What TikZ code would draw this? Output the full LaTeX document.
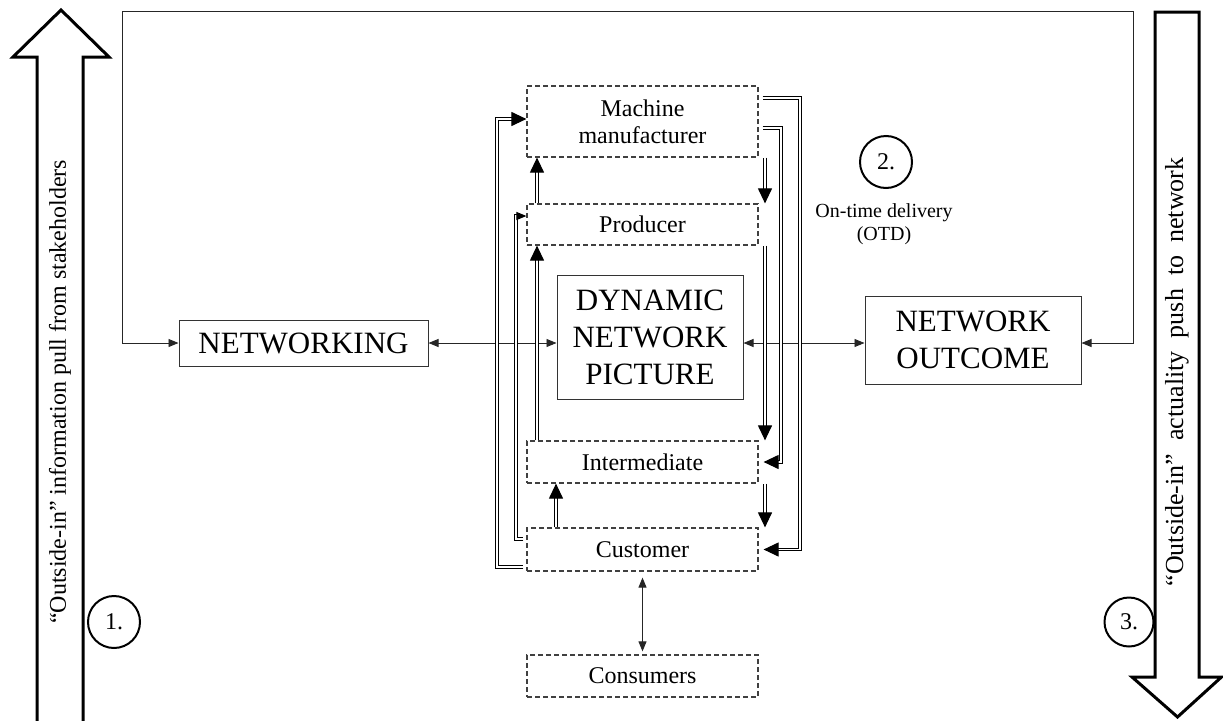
\documentclass[tikz,border=0pt]{standalone}
\usepackage{fontspec}
\setmainfont{Liberation Serif}
\usetikzlibrary{arrows.meta}
\begin{document}
\begin{tikzpicture}[x=1pt,y=-1pt,
  every node/.style={inner sep=0pt, align=center},
  solidbox/.style={draw=black!80, line width=1pt, font=\fontsize{31}{37}\selectfont},
  dashbox/.style={draw=black!75, line width=1.2pt, dash pattern=on 5pt off 3pt,
    minimum width=231pt, font=\fontsize{24}{27}\selectfont},
  thin/.style={draw=black!85, line width=0.9pt},
  >={Triangle[length=10pt,width=8pt]},
  dbl/.style={draw=black, line width=1.1pt, double=white, double distance=1.6pt},
  bigtip/.tip={Triangle[length=15pt,width=14pt]},
  smalltip/.tip={Triangle[length=10pt,width=8pt]},
  num/.style={circle, draw=black, line width=2pt, minimum size=52pt,
    font=\fontsize{24}{24}\selectfont},
  bigarrow/.style={draw=black, line width=3pt, line join=miter, fill=white},
  sidetext/.style={rotate=90, font=\fontsize{24}{24}\selectfont}
]
\useasboundingbox (0,0) rectangle (1223,720);

% hollow block arrows on both sides
\draw[bigarrow] (37,724) -- (37,57) -- (13,57) -- (61,10) -- (109,57) -- (83,57) -- (83,724);
\draw[bigarrow] (1155,12) -- (1155,677) -- (1132,677) -- (1177.5,717) -- (1221.5,677) -- (1199,677) -- (1199,12) -- cycle;

\node[sidetext] (pull) at (60,392) {“Outside-in” information pull from stakeholders};
\node[sidetext, font=\fontsize{26}{26}\selectfont] (push) at (1177,372) {\spaceskip=13pt\relax “Outside-in” actuality push to network};

% main boxes
\node[solidbox, minimum width=249pt, minimum height=46pt] (netw) at (303.5,343) {NETWORKING};
\node[solidbox, minimum width=186pt, minimum height=124pt] (dnp) at (650,337) {DYNAMIC\\NETWORK\\PICTURE};
\node[solidbox, minimum width=216pt, minimum height=88pt] (nout) at (973,340) {NETWORK\\OUTCOME};

% network actors
\node[dashbox, minimum height=71pt] (mm) at (642.5,121.5) {Machine\\manufacturer};
\node[dashbox, minimum height=41pt] (prod) at (642.5,224.5) {Producer};
\node[dashbox, minimum height=42pt] (inter) at (642.5,462) {Intermediate};
\node[dashbox, minimum height=43pt] (cust) at (642.5,549.5) {Customer};
\node[dashbox, minimum height=42pt] (cons) at (642.5,676) {Consumers};

% numbered markers
\node[num] (n1) at (114,622) {1.};
\node[num] (n2) at (886,162) {2.};
\node[num, minimum size=49pt] (n3) at (1129,622) {3.};
\node[font=\fontsize{20}{23}\selectfont] (otd) at (884,224) {On-time delivery\\(OTD)};

% feedback loop over the top
\coordinate (tl) at (122,11);
\coordinate (tr) at (1133,11);
\draw[thin, <->] (netw.west) -| (tl) -- (tr) |- (nout.east |- netw.west);

% horizontal links
\draw[thin, <->] (netw.east) -- (netw.east -| dnp.west);
\draw[thin, <->] (dnp.east |- netw.east) -- (nout.west |- netw.east);
\draw[thin, <->, shorten <=6pt, shorten >=3pt] (cust.south) -- (cons.north);

% upstream (left) flows
\coordinate (l1) at (497,119);
\coordinate (l2) at (516,216);
\coordinate (xa) at (537,0);
\coordinate (xb) at (556,0);
\coordinate (xc) at (765,0);
\draw[dbl, -bigtip] ([xshift=-3pt]cust.west |- 0,567) -| (l1) -- (l1 -| mm.west);
\draw[dbl, -smalltip] ([xshift=-3pt]cust.west |- 0,539) -| (l2) -- (l2 -| prod.west);
\draw[dbl, -bigtip] (inter.north -| xa) -- (prod.south -| xa);
\draw[dbl, -bigtip] (prod.north -| xa) -- (mm.south -| xa);
\draw[dbl, -bigtip] (cust.north -| xb) -- (inter.south -| xb);

% downstream (right) flows
\draw[dbl, -bigtip] (mm.south -| xc) -- (prod.north -| xc);
\draw[dbl, -bigtip] (prod.south -| xc) -- (inter.north -| xc);
\draw[dbl, -bigtip] (inter.south -| xc) -- (cust.north -| xc);
\coordinate (r1) at (781,128);
\coordinate (r2) at (800,98);
\draw[dbl, -bigtip] ([xshift=4pt]mm.east |- r1) -| (r1 |- inter.east) -- ([xshift=5pt]inter.east);
\draw[dbl, -bigtip] ([xshift=4pt]mm.east |- r2) -| (r2 |- cust.east) -- ([xshift=5pt]cust.east);
\end{tikzpicture}
\end{document}
